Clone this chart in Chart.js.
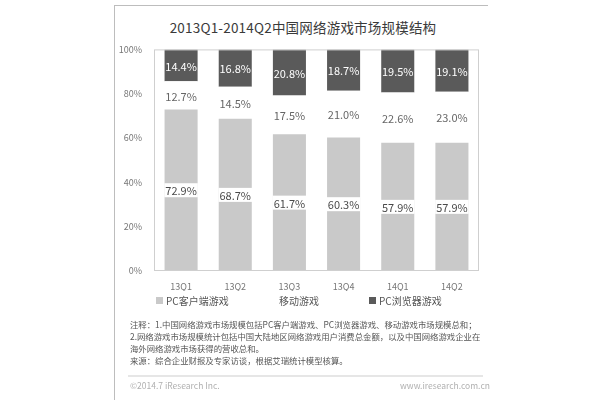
<!DOCTYPE html>
<html><head><meta charset="utf-8">
<script src="https://cdn.jsdelivr.net/npm/chart.js@4"></script>
<style>
html,body{margin:0;padding:0;background:#fff;width:600px;height:400px;overflow:hidden;font-family:"Noto Sans CJK SC","Noto Sans",sans-serif;}
.abs{position:absolute;white-space:nowrap;}
#frameTop{left:114px;top:5px;width:374px;height:0;border-top:1px solid #bdbdbd;}
#frameLeft{left:114px;top:5px;width:0;height:395px;border-left:1px solid #bdbdbd;}
#title{left:115px;width:376px;top:17px;text-align:center;font-size:13.5px;color:#3a3a3a;letter-spacing:0.2px;}
#wrap{left:115px;top:40px;width:375px;height:255px;}
.leg{top:293px;font-size:10px;color:#555;display:flex;align-items:center;}
.leg i{display:inline-block;width:7px;height:7px;margin-right:3px;}
.note{left:130px;font-size:8.4px;color:#555;line-height:12px;}
#sep{left:128px;top:375px;width:355px;height:0;border-top:2px solid #e6e6e6;}
.foot{top:379px;font-size:8.5px;color:#b0b0b0;}
</style></head>
<body>
<div class="abs" id="frameTop"></div>
<div class="abs" id="frameLeft"></div>
<div class="abs" id="title">2013Q1-2014Q2中国网络游戏市场规模结构</div>
<div class="abs" id="wrap"><canvas id="c" width="375" height="255"></canvas></div>
<div class="abs leg" style="left:156px;"><i style="background:#c9c9c9"></i><span id="l0"></span></div>
<div class="abs leg" style="left:269px;"><i style="background:#ffffff"></i><span id="l1"></span></div>
<div class="abs leg" style="left:369px;"><i style="background:#5a5a5a"></i><span id="l2"></span></div>
<div class="abs note" style="top:318px;">注释：1.中国网络游戏市场规模包括PC客户端游戏、PC浏览器游戏、移动游戏市场规模总和；</div>
<div class="abs note" style="top:330px;">2.网络游戏市场规模统计包括中国大陆地区网络游戏用户消费总金额，以及中国网络游戏企业在</div>
<div class="abs note" style="top:342px;">海外网络游戏市场获得的营收总和。</div>
<div class="abs note" style="top:354px;">来源：综合企业财报及专家访谈，根据艾瑞统计模型核算。</div>
<div class="abs" id="sep"></div>
<div class="abs foot" style="left:130px;">©2014.7 iResearch Inc.</div>
<div class="abs foot" style="left:400px;width:82px;text-align:right;">www.iresearch.com.cn</div>
<script>
const categories = ["13Q1","13Q2","13Q3","13Q4","14Q1","14Q2"];
const seriesNames = ["PC客户端游戏","移动游戏","PC浏览器游戏"];
const pcClient = [72.9, 68.7, 61.7, 60.3, 57.9, 57.9];
const mobile = [12.7, 14.5, 17.5, 21.0, 22.6, 23.0];
const browser = [14.4, 16.8, 20.8, 18.7, 19.5, 19.1];
const yTicks = ["0%","20%","40%","60%","80%","100%"];

document.getElementById('l0').textContent = seriesNames[0];
document.getElementById('l1').textContent = seriesNames[1];
document.getElementById('l2').textContent = seriesNames[2];

const FONT = '"Noto Sans CJK SC","Noto Sans",sans-serif';

const boxPlugin = {
  id:'box',
  afterDraw(chart){
    const a = chart.chartArea, ctx = chart.ctx;
    ctx.save();
    ctx.strokeStyle = '#cfcfcf'; ctx.lineWidth = 1;
    ctx.strokeRect(a.left+0.5, a.top+0.5, a.right-a.left-1, a.bottom-a.top-1);
    ctx.restore();
  }
};

const labelPlugin = {
  id:'labels',
  afterDatasetsDraw(chart){
    const ctx = chart.ctx;
    ctx.save();
    ctx.font = '11px ' + FONT;
    ctx.textAlign = 'center';
    ctx.textBaseline = 'middle';
    chart.data.datasets.forEach((ds, di) => {
      const meta = chart.getDatasetMeta(di);
      meta.data.forEach((el, i) => {
        const v = ds.data[i];
        const txt = v.toFixed(1) + '%';
        const cy = (el.y + el.base) / 2;
        const x = el.x;
        if (di === 0) {
          const w = ctx.measureText(txt).width + 2;
          ctx.fillStyle = '#ffffff';
          ctx.fillRect(x - w/2, cy - 7, w, 14);
          ctx.fillStyle = '#4a4a4a';
        } else if (di === 1) {
          ctx.fillStyle = '#666666';
        } else {
          ctx.fillStyle = '#ffffff';
        }
        ctx.fillText(txt, x, cy + 1);
      });
    });
    ctx.restore();
  }
};

new Chart(document.getElementById('c'), {
  type:'bar',
  data:{
    labels:categories,
    datasets:[
      {label:seriesNames[0], data:pcClient, backgroundColor:'#c9c9c9'},
      {label:seriesNames[1], data:mobile, backgroundColor:'#ffffff'},
      {label:seriesNames[2], data:browser, backgroundColor:'#5a5a5a'}
    ]
  },
  options:{
    responsive:false,
    animation:false,
    devicePixelRatio:1,
    layout:{padding:{left:0,right:11,top:9,bottom:4}},
    datasets:{bar:{barPercentage:0.61,categoryPercentage:1.0}},
    plugins:{legend:{display:false},title:{display:false},tooltip:{enabled:false}},
    scales:{
      x:{
        stacked:true,
        grid:{display:false},
        border:{display:false},
        ticks:{color:'#777',font:{size:9,family:FONT},padding:2},
        afterFit(s){ s.height = 20; }
      },
      y:{
        stacked:true,
        min:0,max:100,
        grid:{display:false},
        border:{display:false},
        ticks:{stepSize:20,color:'#777',font:{size:9,family:FONT},padding:4,
          callback:(v)=> yTicks[Math.round(v/20)]},
        afterFit(s){ s.width = 39; }
      }
    }
  },
  plugins:[boxPlugin,labelPlugin]
});
</script>
</body></html>
